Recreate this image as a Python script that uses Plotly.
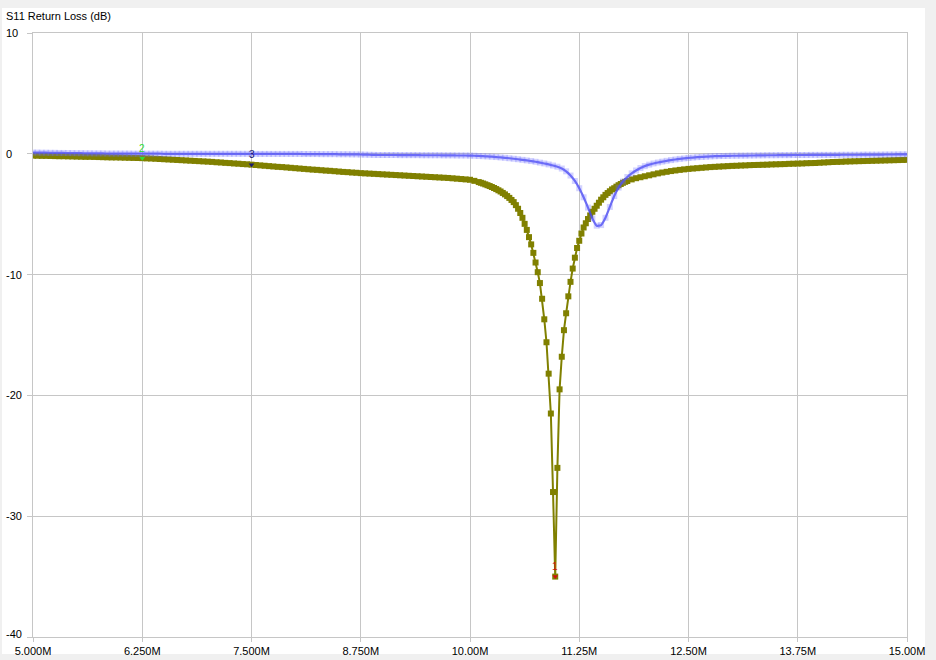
import numpy as np
import plotly.graph_objects as go

# ---------------- data ----------------
FREQ_START_MHZ = 5.0
FREQ_STEP_MHZ = 0.05
N_POINTS = 201

# S11 (dB), trace 1 (olive), sampled every 0.05 MHz from 5.00 to 15.00 MHz
OLIVE_DB = [
    -0.15, -0.16, -0.17, -0.17, -0.18, -0.19, -0.20, -0.20, -0.21, -0.22,
    -0.23, -0.24, -0.25, -0.25, -0.26, -0.27, -0.28, -0.29, -0.30, -0.30,
    -0.31, -0.32, -0.33, -0.34, -0.35, -0.36, -0.38, -0.39, -0.41, -0.43,
    -0.45, -0.47, -0.49, -0.51, -0.53, -0.55, -0.57, -0.59, -0.61, -0.63,
    -0.65, -0.67, -0.70, -0.72, -0.75, -0.77, -0.80, -0.82, -0.85, -0.87,
    -0.90, -0.93, -0.96, -0.99, -1.02, -1.05, -1.08, -1.10, -1.13, -1.16,
    -1.19, -1.22, -1.25, -1.28, -1.31, -1.33, -1.36, -1.39, -1.41, -1.44,
    -1.47, -1.50, -1.52, -1.55, -1.57, -1.60, -1.62, -1.64, -1.66, -1.68,
    -1.70, -1.72, -1.74, -1.76, -1.78, -1.80, -1.82, -1.84, -1.86, -1.88,
    -1.90, -1.92, -1.94, -1.96, -1.98, -2.00, -2.03, -2.06, -2.09, -2.12,
    -2.15, -2.24, -2.34, -2.46, -2.60, -2.75, -2.92, -3.12, -3.36, -3.65,
    -4.00, -4.55, -5.30, -6.30, -7.50, -9.00, -10.7, -13.7, -18.2, -28.0,
    -26.0, -16.8, -13.2, -10.6, -8.6, -7.2, -6.1, -5.4, -4.8, -4.3,
    -3.8, -3.4, -3.1, -2.85, -2.6, -2.4, -2.25, -2.12, -2.02, -1.94,
    -1.86, -1.78, -1.70, -1.62, -1.55, -1.49, -1.43, -1.38, -1.33, -1.29,
    -1.25, -1.22, -1.19, -1.16, -1.13, -1.10, -1.08, -1.06, -1.04, -1.02,
    -1.00, -0.99, -0.97, -0.96, -0.94, -0.93, -0.92, -0.91, -0.90, -0.88,
    -0.87, -0.86, -0.85, -0.83, -0.82, -0.81, -0.80, -0.78, -0.77, -0.76,
    -0.74, -0.72, -0.70, -0.68, -0.67, -0.66, -0.64, -0.63, -0.62, -0.61,
    -0.60, -0.59, -0.58, -0.57, -0.56, -0.55, -0.54, -0.53, -0.52, -0.51,
    -0.50,
]

# extra olive samples read in the resonance region (between the 0.05 MHz samples)
OLIVE_EXTRA_F = [10.125, 10.175, 10.225, 10.275, 10.325, 10.375,
                 10.425, 10.475, 10.525, 10.575, 10.625, 10.675, 10.725, 10.775,
                 10.825, 10.875, 10.925, 10.975, 11.025, 11.075, 11.125, 11.175,
                 11.225, 11.275, 11.325, 11.375, 11.425, 11.475, 11.525, 11.575,
                 11.625, 11.675, 11.725, 11.775]
OLIVE_EXTRA_DB = [-2.40, -2.53, -2.67, -2.83, -3.02, -3.24,
                  -3.5, -3.82, -4.25, -4.9, -5.8, -6.9, -8.2, -9.8,
                  -12.0, -15.6, -21.5, -35.0, -19.5, -14.6, -11.8, -9.5,
                  -7.8, -6.6, -5.75, -5.1, -4.55, -4.05, -3.6, -3.25,
                  -2.95, -2.72, -2.5, -2.32]

# S11 (dB), trace 2 (blue), sampled every 0.05 MHz from 5.00 to 15.00 MHz
BLUE_DB = [
    0.10, 0.10, 0.09, 0.09, 0.08, 0.08, 0.07, 0.07, 0.06, 0.06,
    0.05, 0.05, 0.04, 0.04, 0.03, 0.03, 0.03, 0.02, 0.02, 0.02,
    0.02, 0.02, 0.02, 0.01, 0.01, 0.01, 0.01, 0.01, 0.01, 0.01,
    0.00, 0.00, 0.00, 0.00, 0.00, 0.00, 0.00, 0.00, 0.00, 0.00,
    0.00, 0.00, 0.00, 0.00, 0.00, 0.00, 0.00, 0.00, 0.00, 0.00,
    -0.01, -0.01, -0.01, -0.01, -0.01, -0.01, -0.01, -0.01, -0.01, -0.01,
    -0.01, -0.01, -0.02, -0.02, -0.02, -0.02, -0.03, -0.03, -0.03, -0.03,
    -0.04, -0.04, -0.04, -0.05, -0.05, -0.06, -0.07, -0.08, -0.09, -0.10,
    -0.10, -0.10, -0.10, -0.10, -0.11, -0.11, -0.11, -0.11, -0.11, -0.12,
    -0.12, -0.12, -0.12, -0.12, -0.13, -0.13, -0.13, -0.14, -0.14, -0.14,
    -0.15, -0.16, -0.18, -0.20, -0.22, -0.24, -0.27, -0.30, -0.33, -0.37,
    -0.41, -0.45, -0.50, -0.55, -0.60, -0.66, -0.73, -0.80, -0.88, -0.97,
    -1.07, -1.22, -1.45, -1.80, -2.25, -2.85, -3.60, -4.45, -5.35, -5.95,
    -5.90, -5.30, -4.40, -3.50, -2.80, -2.30, -1.92, -1.62, -1.38, -1.18,
    -1.02, -0.90, -0.80, -0.72, -0.65, -0.58, -0.52, -0.47, -0.42, -0.38,
    -0.34, -0.31, -0.28, -0.26, -0.24, -0.22, -0.20, -0.19, -0.18, -0.17,
    -0.16, -0.16, -0.15, -0.15, -0.14, -0.14, -0.13, -0.13, -0.12, -0.12,
    -0.12, -0.11, -0.11, -0.11, -0.10, -0.10, -0.10, -0.10, -0.09, -0.09,
    -0.09, -0.09, -0.09, -0.09, -0.09, -0.08, -0.08, -0.08, -0.08, -0.08,
    -0.07, -0.07, -0.07, -0.07, -0.07, -0.06, -0.06, -0.06, -0.05, -0.05,
    -0.05,
]

XTICK_VALS = [5.0, 6.25, 7.5, 8.75, 10.0, 11.25, 12.5, 13.75, 15.0]
XTICK_TEXT = ["5.000M", "6.250M", "7.500M", "8.750M", "10.00M",
              "11.25M", "12.50M", "13.75M", "15.00M"]
YTICK_VALS = [10, 0, -10, -20, -30, -40]

MARKER_LABELS = ["1", "2", "3"]
MARKER_F = [10.975, 6.25, 7.5]
MARKER_COLORS = ["#d01010", "#33dd33", "#1a1a70"]

TITLE = "S11 Return Loss (dB)"

# ---------------- build ----------------
assert len(OLIVE_DB) == N_POINTS and len(BLUE_DB) == N_POINTS
freq = np.round(FREQ_START_MHZ + FREQ_STEP_MHZ * np.arange(N_POINTS), 3)

of = np.concatenate([freq, np.array(OLIVE_EXTRA_F)])
od = np.concatenate([np.array(OLIVE_DB), np.array(OLIVE_EXTRA_DB)])
order = np.argsort(of)
of, od = of[order], od[order]
olive_lookup = {round(float(f), 3): float(d) for f, d in zip(of, od)}
marker_db = [olive_lookup[round(f, 3)] for f in MARKER_F]

OLIVE = "#808000"
FONT = "Liberation Sans"

fig = go.Figure()
fig.add_trace(go.Scatter(
    x=of, y=od, mode="lines+markers",
    line=dict(color=OLIVE, width=2),
    marker=dict(symbol="square", size=6, color=OLIVE, line=dict(width=0)),
    hoverinfo="x+y",
))
fig.add_trace(go.Scatter(
    x=freq, y=BLUE_DB, mode="lines+markers",
    line=dict(color="rgba(70,70,240,0.8)", width=2.2, shape="spline", smoothing=0.5),
    marker=dict(symbol="square", size=6, color="rgba(110,110,255,0.30)", line=dict(width=0)),
    hoverinfo="x+y",
))
fig.add_trace(go.Scatter(
    x=MARKER_F, y=marker_db, mode="markers",
    marker=dict(symbol="triangle-down", size=5, color=MARKER_COLORS, line=dict(width=0)),
    hoverinfo="skip",
))

annotations = []
for lab, f, d, c in zip(MARKER_LABELS, MARKER_F, marker_db, MARKER_COLORS):
    annotations.append(dict(x=f, y=d, xref="x", yref="y", text=lab, showarrow=False,
                            yshift=10, font=dict(family=FONT, size=10, color=c)))

plot_l, plot_r, plot_t, plot_b = 33, 907, 33, 637
pw, ph = plot_r - plot_l, plot_b - plot_t


def px(xp):
    return (xp - plot_l) / pw


def py(yp):
    return (plot_b - yp) / ph


for v in YTICK_VALS:
    annotations.append(dict(x=px(4), y=v, xref="paper", yref="y", text=str(v),
                            showarrow=False, xanchor="left", yanchor="middle",
                            yshift=3 if v == -40 else 0,
                            font=dict(family=FONT, size=11, color="black")))
annotations.append(dict(x=px(4), y=py(16), xref="paper", yref="paper", text=TITLE,
                        showarrow=False, xanchor="left", yanchor="middle",
                        font=dict(family=FONT, size=11, color="black")))

shapes = [dict(type="rect", xref="paper", yref="paper", x0=px(2), x1=px(925),
               y0=py(654), y1=py(8), fillcolor="white", line=dict(width=0), layer="below")]

GRID = "#c6c6c6"
fig.update_layout(
    width=936, height=660, autosize=False,
    margin=dict(l=plot_l, r=936 - plot_r, t=plot_t, b=660 - plot_b, pad=0, autoexpand=False),
    paper_bgcolor="#f0f0f0", plot_bgcolor="white",
    showlegend=False,
    annotations=annotations, shapes=shapes,
    font=dict(family=FONT, size=11, color="black"),
    xaxis=dict(range=[5, 15], tickvals=XTICK_VALS, ticktext=XTICK_TEXT,
               automargin=False,
               showgrid=True, gridcolor=GRID, gridwidth=1, zeroline=False,
               showline=True, linecolor=GRID, mirror=True,
               ticks="outside", ticklen=4, tickcolor=GRID,
               tickfont=dict(family=FONT, size=11, color="black")),
    yaxis=dict(range=[-40, 10], tickvals=YTICK_VALS, showticklabels=False,
               automargin=False,
               showgrid=True, gridcolor=GRID, gridwidth=1, zeroline=False,
               showline=True, linecolor=GRID, mirror=True,
               ticks="outside", ticklen=5, tickcolor=GRID),
)

fig.write_html(
    "out.html",
    config={"displayModeBar": False},
    post_script="document.body.style.margin='0';document.body.style.overflow='hidden';",
)
